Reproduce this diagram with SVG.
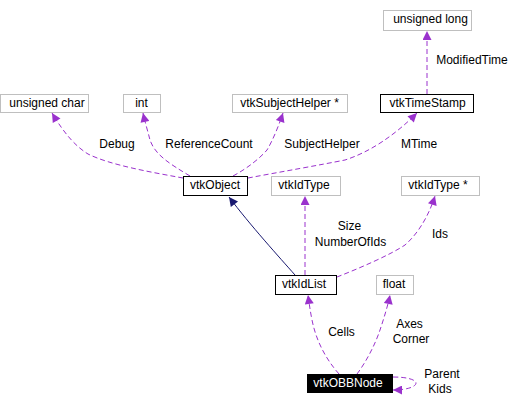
<svg xmlns="http://www.w3.org/2000/svg" width="520" height="405" viewBox="0 0 520 405">
<style>
text{font-family:"Liberation Sans",Arial,sans-serif;font-size:12px;fill:#000}
.n text{text-anchor:middle}
.g rect{fill:#fff;stroke:#bfbfbf;stroke-width:1}
.b rect{fill:#fff;stroke:#000;stroke-width:1}
.k rect{fill:#000;stroke:#000}
.k text{fill:#fff}
.e{fill:none;stroke:#9a32cd;stroke-width:1;stroke-dasharray:5,3;marker-end:url(#ap)}
.i{fill:none;stroke:#191970;stroke-width:1;marker-end:url(#ab)}
.l{text-anchor:middle}
</style>
<defs>
<marker id="ap" viewBox="0 0 10 10" refX="10" refY="5" markerUnits="userSpaceOnUse" markerWidth="12" markerHeight="9" orient="auto"><path d="M0,0L10,5L0,10z" fill="#9a32cd"/></marker>
<marker id="ab" viewBox="0 0 10 10" refX="10" refY="5" markerUnits="userSpaceOnUse" markerWidth="12" markerHeight="9" orient="auto"><path d="M0,0L10,5L0,10z" fill="#191970"/></marker>
</defs>
<rect width="520" height="405" fill="#fff"/>
<g id="connectors">
<path class="e" d="M183,178 C150,172 110,165 88,154 C75,146 64,133 52,113"/>
<path class="e" d="M190,176 C170,164 155,155 150,140 C148,132 145,122 143,113"/>
<path class="e" d="M233,176 C248,168 260,158 267,150 C273,140 279,125 283,113"/>
<path class="e" d="M248,178 C280,172 320,165 345,160 C370,152 395,135 417,113"/>
<path class="e" d="M427,94 L427,31"/>
<path class="i" d="M295,275 C280,258 250,225 229,197"/>
<path class="e" d="M305,275 L305,196"/>
<path class="e" d="M337,277 C360,268 390,255 405,245 C420,232 430,212 435,196"/>
<path class="e" d="M339,374 C325,358 316,340 312,320 C310,310 309,302 308,295"/>
<path class="e" d="M357,374 C366,362 375,345 380,330 C384,318 388,305 390,295"/>
<path class="e" d="M393,377 C408,377 416,380 416,383 C416,387 406,390 393,390"/>
<text class="l" x="117" y="147.5">Debug</text>
<text class="l" x="209" y="147.5">ReferenceCount</text>
<text class="l" x="322" y="147.5">SubjectHelper</text>
<text class="l" x="419" y="147.5">MTime</text>
<text class="l" x="472" y="64">ModifiedTime</text>
<text class="l" x="349.5" y="230">Size</text>
<text class="l" x="350.5" y="245.5">NumberOfIds</text>
<text class="l" x="440" y="237.5">Ids</text>
<text class="l" x="341.5" y="335.5">Cells</text>
<text class="l" x="409.5" y="327.5">Axes</text>
<text class="l" x="411" y="343">Corner</text>
<text class="l" x="442" y="377.5">Parent</text>
<text class="l" x="440" y="393">Kids</text>
</g>
<g id="unsigned_char" class="n g"><rect x="0.5" y="94.5" width="88" height="18"/><text x="47" y="106.5">unsigned char</text></g>
<g id="int" class="n g"><rect x="123.5" y="94.5" width="37" height="18"/><text x="141.5" y="106.5">int</text></g>
<g id="vtkSubjectHelper_ptr" class="n g"><rect x="232.5" y="94.5" width="115" height="18"/><text x="289.5" y="106.5">vtkSubjectHelper *</text></g>
<g id="unsigned_long" class="n g"><rect x="383.5" y="10.5" width="88" height="20"/><text x="430.5" y="22.5">unsigned long</text></g>
<g id="vtkTimeStamp" class="n b"><rect x="380.5" y="94.5" width="93" height="18"/><text x="427.5" y="106.5">vtkTimeStamp</text></g>
<g id="vtkObject" class="n b"><rect x="183.5" y="176.5" width="64" height="19"/><text x="215" y="188.5">vtkObject</text></g>
<g id="vtkIdType" class="n g"><rect x="271.5" y="176.5" width="69" height="19"/><text x="304" y="188.5">vtkIdType</text></g>
<g id="vtkIdType_ptr" class="n g"><rect x="401.5" y="176.5" width="78" height="19"/><text x="438" y="188.5">vtkIdType *</text></g>
<g id="vtkIdList" class="n b"><rect x="275.5" y="275.5" width="61" height="19"/><text x="304" y="287.5">vtkIdList</text></g>
<g id="float" class="n g"><rect x="376.5" y="275.5" width="37" height="19"/><text x="394" y="287.5">float</text></g>
<g id="vtkOBBNode" class="n k"><rect x="307.5" y="374.5" width="85" height="18"/><text x="348" y="387">vtkOBBNode</text></g>
</svg>
